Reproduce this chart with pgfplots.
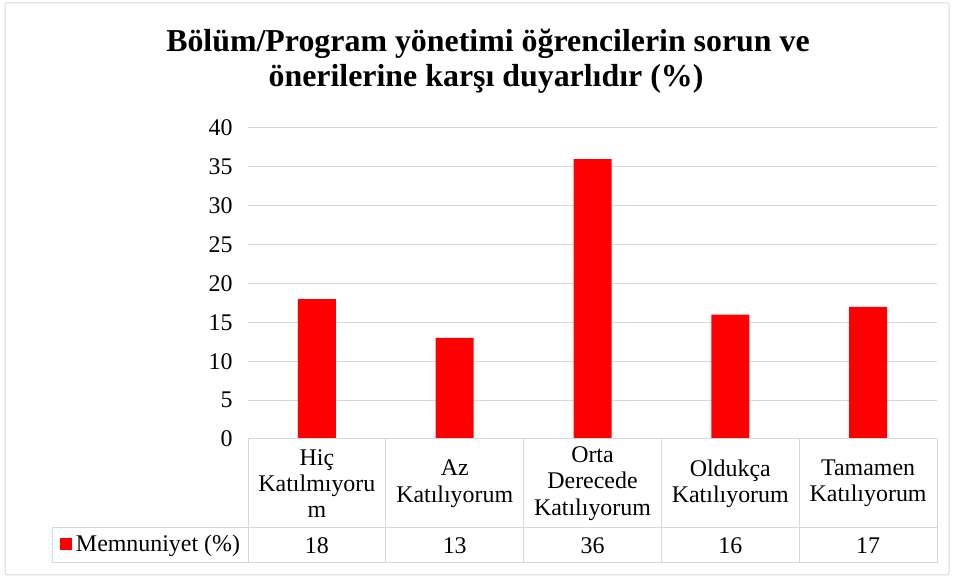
\documentclass[border=0pt]{standalone}
\usepackage{fontspec}
\setmainfont{Liberation Serif}
\usepackage{pgfplots}
\usepackage{pgfplotstable}
\pgfplotsset{compat=1.18}
\definecolor{gridgray}{HTML}{D9D9D9}
\definecolor{barred}{HTML}{FF0000}
\pgfplotstableread{
x y
0 18
1 13
2 36
3 16
4 17
}\data
\begin{document}
\begin{tikzpicture}
\useasboundingbox (0,0) rectangle (953bp,578bp);
\draw[gridgray, line width=1bp, rounded corners=2bp] (5bp,3bp) rectangle (949bp,575bp);
\node[font=\fontsize{32}{35}\selectfont\bfseries, anchor=base, inner sep=0pt] at (488bp,526bp)
  {Bölüm/Program yönetimi öğrencilerin sorun ve};
\node[font=\fontsize{32}{35}\selectfont\bfseries, anchor=base, inner sep=0pt] at (486bp,491bp)
  {önerilerine karşı duyarlıdır (\%)};
\begin{axis}[
  at={(248bp,139bp)}, anchor=south west,
  scale only axis, width=689bp, height=311bp,
  xmin=-0.5, xmax=4.5, ymin=0, ymax=40,
  ytick={0,5,...,40},
  xtick={0,1,2,3,4},
  xticklabels={{Hiç\\Katılmıyoru\\m},{Az\\Katılıyorum},{Orta\\Derecede\\Katılıyorum},{Oldukça\\Katılıyorum},{Tamamen\\Katılıyorum}},
  xticklabel style={anchor=center, yshift=-44.5bp, align=center, font=\fontsize{24}{26.5}\selectfont},
  yticklabel style={font=\fontsize{24}{26}\selectfont, xshift=-12bp},
  /pgf/number format/assume math mode=true,
  ymajorgrids, grid style={gridgray, line width=1bp},
  axis line style={draw=none},
  tick style={draw=none},
  clip=false,
]
\addplot[ybar, bar width=38bp, fill=barred, draw=none] table[x=x, y=y]{\data};
\addplot[draw=none, mark=none, nodes near coords, point meta=explicit symbolic,
  every node near coord/.append style={anchor=center, font=\fontsize{24}{26}\selectfont}]
  table[x=x, y expr=-13.70, meta=y]{\data};
\end{axis}
\draw[gridgray, line width=1bp] (248bp,139bp) -- (937bp,139bp);
\draw[gridgray, line width=1bp] (52bp,50bp) -- (937bp,50bp);
\draw[gridgray, line width=1bp] (52bp,15bp) -- (937bp,15bp);
\draw[gridgray, line width=1bp] (52bp,15bp) -- (52bp,50bp);
\foreach \xx in {248,385.8,523.6,661.4,799.2,937}{
  \draw[gridgray, line width=1bp] (\xx bp,15bp) -- (\xx bp,139bp);
}
\node[font=\fontsize{24}{26}\selectfont, anchor=center] at (150bp,32.5bp)
  {\textcolor{barred}{\raisebox{1.5bp}{\rule{12bp}{12bp}}}\hspace{4bp}Memnuniyet (\%)};
\end{tikzpicture}
\end{document}
